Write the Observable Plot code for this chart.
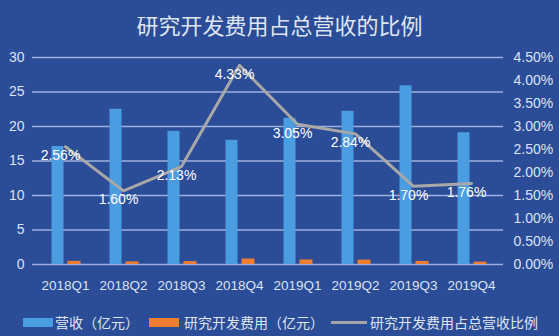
<!DOCTYPE html>
<html><head><meta charset="utf-8">
<script src="https://cdn.jsdelivr.net/npm/d3@7"></script>
<script src="https://cdn.jsdelivr.net/npm/@observablehq/plot@0.6"></script>
<style>
body{margin:0;background:#2b4c96;}
#wrap{position:relative;width:559px;height:336px;background:#2b4c96;overflow:hidden;font-family:"Liberation Sans",Arial,sans-serif;}
#title{position:absolute;top:0;left:0;width:559px;height:46px;line-height:48px;text-align:center;color:#dfe5f2;font-size:22px;font-family:"Noto Sans CJK SC",sans-serif;}
#chart{position:absolute;top:45px;left:0;}
.lg{position:absolute;top:312px;height:20px;line-height:20px;font-size:14px;color:#dfe5f2;font-family:"Noto Sans CJK SC",sans-serif;white-space:nowrap;}
.sw{position:absolute;}
</style></head>
<body>
<div id="wrap">
  <div id="title">研究开发费用占总营收的比例</div>
  <div id="chart"></div>
  <div class="sw" style="left:23px;top:318px;width:30px;height:9px;background:#4a9de0"></div>
  <div class="lg" style="left:55px">营收（亿元）</div>
  <div class="sw" style="left:149px;top:318px;width:30px;height:9px;background:#ed7d31"></div>
  <div class="lg" style="left:184px">研究开发费用（亿元）</div>
  <div class="sw" style="left:331px;top:321px;width:36px;height:3px;background:#a5a5a5"></div>
  <div class="lg" style="left:370px">研究开发费用占总营收比例</div>
</div>
<script>
const quarters = ["2018Q1","2018Q2","2018Q3","2018Q4","2019Q1","2019Q2","2019Q3","2019Q4"];
const revenue = [17.1, 22.5, 19.3, 18.0, 21.2, 22.2, 25.9, 19.1];
const rdCost = [0.46, 0.38, 0.42, 0.80, 0.66, 0.64, 0.45, 0.35];
const ratioPct = [2.56, 1.60, 2.13, 4.33, 3.05, 2.84, 1.70, 1.76];
const leftTicks = [0, 5, 10, 15, 20, 25, 30];
const rightTicks = [0, 0.5, 1, 1.5, 2, 2.5, 3, 3.5, 4, 4.5];

const yMax = 30, pMax = 4.5;
const data = quarters.map((q, i) => ({q, rev: revenue[i], rd: rdCost[i], pct: ratioPct[i]}));
const toY = p => p / pMax * yMax;

const chart = Plot.plot({
  width: 559, height: 255,
  marginTop: 12, marginBottom: 36, marginLeft: 32, marginRight: 56,
  x: {domain: quarters, padding: 0, label: null},
  y: {domain: [0, yMax], label: null},
  style: {background: "transparent", color: "#dbe3f3", fontSize: "14px", fontFamily: "'Liberation Sans', Arial, sans-serif", overflow: "visible"},
  marks: [
    Plot.gridY(leftTicks, {stroke: "#a9bde8", strokeOpacity: 0.9, strokeWidth: 1.3}),
    Plot.axisY(leftTicks, {anchor: "left", tickSize: 0, tickPadding: 8, label: null}),
    Plot.axisY(rightTicks.map(toY), {anchor: "right", tickSize: 0, tickPadding: 10, label: null,
      tickFormat: d => (d / yMax * pMax).toFixed(2) + "%"}),
    Plot.axisX({tickSize: 0, tickPadding: 16, label: null, fontSize: 13.5}),
    Plot.barY(data, {x: "q", y: "rev", fill: "#4a9de0", insetLeft: 15.5, insetRight: 30.5}),
    Plot.barY(data, {x: "q", y: "rd", fill: "#ed7d31", insetLeft: 31.5, insetRight: 13.5}),
    Plot.line(data, {x: "q", y: d => toY(d.pct), stroke: "#a8a8a8", strokeWidth: 3}),
    Plot.text(data, {x: "q", y: d => toY(d.pct), text: d => d.pct.toFixed(2) + "%", fill: "#ffffff", dx: -5, dy: 9, fontSize: 14})
  ]
});
document.getElementById("chart").appendChild(chart);
</script>
</body></html>
